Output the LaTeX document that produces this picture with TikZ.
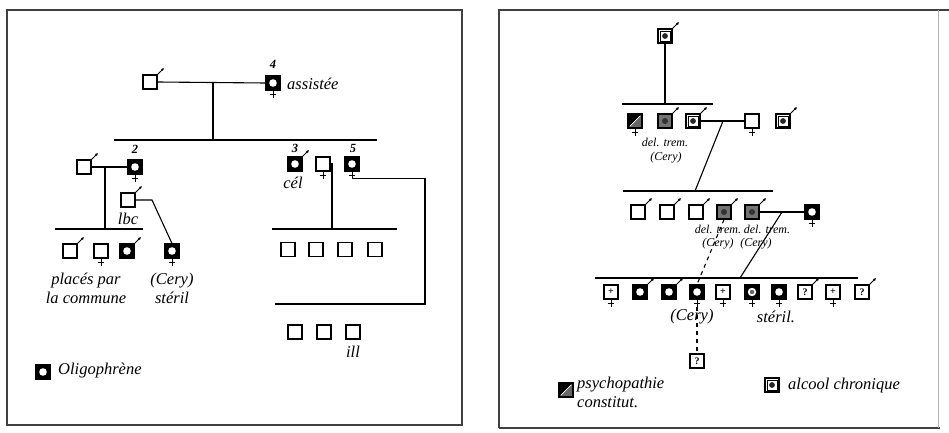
\documentclass[tikz,border=0pt]{standalone}
\usepackage{fontspec}
\setmainfont{Liberation Serif}
\usetikzlibrary{arrows.meta}
\newcommand\mk[1]{\draw[mline,-{Latex[length=3pt,width=3pt]}] (#1.north east) -- ++(6.5pt,6.5pt);}
\newcommand\fk[1]{\draw[mline] (#1.south) -- ++(0pt,-7.5pt) ([xshift=-3.2pt,yshift=-3.5pt]#1.south) -- ++(6.4pt,0pt);}
\tikzset{
 mline/.style={line width=1pt},
 conn/.style={line width=1.1pt},
 frame/.style={line width=1.1pt, draw=black!75},
 sq/.style={draw, line width=1.1pt, minimum size=14pt, inner sep=0pt, fill=white},
 oligo/.style={sq, fill=black, path picture={\fill[white] (path picture bounding box.center) circle (3.8pt);}},
 oligoal/.style={sq, fill=black, path picture={\fill[white] (path picture bounding box.center) circle (4.2pt);\fill[black!60] (path picture bounding box.center) circle (2.2pt);}},
 alco/.style={sq, path picture={\draw[line width=0.5pt] ([shift={(2.2pt,2.2pt)}]path picture bounding box.south west) rectangle ([shift={(-2.2pt,-2.2pt)}]path picture bounding box.north east); \fill[black!85] (path picture bounding box.center) circle (2.9pt);}},
 deltrem/.style={sq, fill=black!55, path picture={\fill[black!80] (path picture bounding box.center) circle (3pt);}},
 psycho/.style={sq, path picture={\fill[black] (path picture bounding box.south west) -- (path picture bounding box.north west) -- (path picture bounding box.north east) -- cycle; \fill[black!60] (path picture bounding box.south west) -- (path picture bounding box.south east) -- (path picture bounding box.north east) -- cycle; \draw[white, line width=0.7pt] ([shift={(2pt,2pt)}]path picture bounding box.south west) -- ([shift={(-2pt,-2pt)}]path picture bounding box.north east);}},
 sym/.style={sq, font=\fontsize{10}{10}\selectfont\bfseries},
 lab/.style={font=\itshape\fontsize{16.5}{18}\selectfont, inner sep=0pt},
 slab/.style={font=\itshape\fontsize{12}{13}\selectfont, inner sep=0pt},
 num/.style={font=\itshape\bfseries\fontsize{12.5}{13}\selectfont, inner sep=0pt},
}
\begin{document}
\begin{tikzpicture}[x=1pt,y=-1pt]
\useasboundingbox (0,0) rectangle (949,433);
% frames
\draw[frame] (7,10) rectangle (462,425);
\draw[frame] (499,428) -- (499,10) -- (949,10);
\draw[frame] (499,428) -- (940,428);
\draw[line width=0.6pt, draw=black!30] (938,10) -- (938,428);

% ===== LEFT PANEL =====
\node[sq] (g1m) at (150,82) {};
\node[oligo] (g1f) at (273,83) {};
\mk{g1m} \fk{g1f}
\node[num] (n4) at (273,64) {4};
\node[lab, anchor=west] (tass) at (287,84) {assistée};
\draw[conn] (g1m.east) -- (g1f.west);
\coordinate (j1) at (213,82.5);
\coordinate (j1b) at (213,140);
\draw[conn] (j1) -- (j1b);
\coordinate (s2a) at (114,140); \coordinate (s2b) at (377,140);
\draw[conn] (s2a) -- (s2b);

% gen 2 left
\node[sq] (a1) at (84,167) {};
\node[oligo] (a2) at (135,167) {};
\mk{a1} \fk{a2}
\node[num] (n2) at (135,149) {2};
\draw[conn] (a1.east) -- (a2.west);
\coordinate (j2) at (105,167); \coordinate (j2b) at (105,229);
\draw[conn] (j2) -- (j2b);
\coordinate (s3a) at (55,229); \coordinate (s3b) at (143,229);
\draw[conn] (s3a) -- (s3b);
\node[sq] (lbc) at (128,200) {};
\mk{lbc}
\node[lab] (tlbc) at (128,219) {lbc};

% gen 3 left
\node[sq] (c1) at (70,251) {};
\node[sq] (c2) at (101,251) {};
\node[oligo] (c3) at (127,251) {};
\node[oligo] (c4) at (172,251) {};
\mk{c1} \fk{c2} \mk{c3} \fk{c4}
\coordinate (k1) at (152,200);
\draw[conn] (lbc.east) -- (k1) -- (c4.north);
\node[lab] (tpl) at (86,281) {placés par};
\node[lab] (tco) at (86,298) {la commune};
\node[lab] (tce) at (172,281) {(Cery)};
\node[lab] (tst) at (172,298) {stéril};

% gen 2 right
\node[oligo] (b3) at (295,164) {};
\node[sq] (b4) at (323,164) {};
\node[oligo] (b5) at (352,164) {};
\mk{b3} \fk{b4} \fk{b5}
\node[num] (n3) at (295,148) {3};
\node[num] (n5) at (353,148) {5};
\node[lab] (tcel) at (293,183) {cél};
\coordinate (k2) at (332,164); \coordinate (k2b) at (332,229);
\draw[conn] (b4.east) -- (k2) -- (k2b);
\coordinate (s4a) at (272,229); \coordinate (s4b) at (397,229);
\draw[conn] (s4a) -- (s4b);
\node[sq] (d1) at (288,249.5) {};
\node[sq] (d2) at (316,249.5) {};
\node[sq] (d3) at (345,249.5) {};
\node[sq] (d4) at (375,249.5) {};
\coordinate (k3) at (352,178.5); \coordinate (k4) at (425,178.5);
\coordinate (k5) at (425,304); \coordinate (k6) at (275,304);
\draw[conn] (k3) -- (k4) -- (k5) -- (k6);
\node[sq] (e1) at (295,332) {};
\node[sq] (e2) at (324,332) {};
\node[sq] (e3) at (353,332) {};
\node[lab] (till) at (353,352) {ill};

% legend left
\node[oligo] (lego) at (43,372) {};
\node[lab, anchor=west] (tolig) at (58,371) {Oligophrène};

% ===== RIGHT PANEL =====
\node[alco] (r0) at (665,36) {};
\mk{r0}
\coordinate (u1) at (665,104);
\draw[conn] (r0.south) -- (u1);
\coordinate (s5a) at (622,104); \coordinate (s5b) at (713,104);
\draw[conn] (s5a) -- (s5b);

\node[psycho] (q1) at (635,121) {};
\node[deltrem] (q2) at (665,121) {};
\node[alco] (q3) at (693,121) {};
\node[sq] (q4) at (752,121) {};
\node[alco] (q5) at (783,121) {};
\fk{q1} \mk{q2} \mk{q3} \fk{q4} \mk{q5}
\draw[conn] (q3.east) -- (q4.west);
\coordinate (u2) at (723,121); \coordinate (u3) at (695,191);
\draw[conn] (u2) -- (u3);
\coordinate (s6a) at (623,191); \coordinate (s6b) at (773,191);
\draw[conn] (s6a) -- (s6b);
\node[slab] (tdt1) at (665,142) {del. trem.};
\node[slab] (tc1) at (666,158) {(Cery)};

\node[sq] (p1) at (638,212) {};
\node[sq] (p2) at (667,212) {};
\node[sq] (p3) at (696,212) {};
\node[deltrem] (p4) at (724,212) {};
\node[deltrem] (p5) at (752,212) {};
\node[oligo] (p6) at (812,212) {};
\mk{p1} \mk{p2} \mk{p3} \mk{p4} \mk{p5} \fk{p6}
\draw[conn] (p5.east) -- (p6.west);
\coordinate (u4) at (782,212); \coordinate (u5) at (740,278);
\draw[conn] (u4) -- (u5);
\coordinate (s7a) at (595,278); \coordinate (s7b) at (858,278);
\draw[conn] (s7a) -- (s7b);
\node[slab] (tdt2) at (718,229) {del. trem.};
\node[slab] (tdt3) at (767,229) {del. trem.};
\node[slab] (tc2) at (718,244) {(Cery)};
\node[slab] (tc3) at (756,244) {(Cery)};

\node[sym] (o1) at (611,292) {+};
\node[oligo] (o2) at (640,292) {};
\node[oligo] (o3) at (669,292) {};
\node[oligo] (o4) at (697,292) {};
\node[sym] (o5) at (723,292) {+};
\node[oligoal] (o6) at (752,292) {};
\node[oligo] (o7) at (779,292) {};
\node[sym] (o8) at (805,292) {?};
\node[sym] (o9) at (833,292) {+};
\node[sym] (o10) at (862,292) {?};
\fk{o1} \mk{o2} \mk{o3} \fk{o4} \fk{o5} \fk{o6} \fk{o7} \mk{o8} \fk{o9} \mk{o10}
\draw[conn, dashed, dash pattern=on 4pt off 4pt] (p4.south) -- (o4.north);
\node[sym] (qq) at (697,361) {?};
\coordinate (u6) at (697,307);
\draw[conn, dashed, dash pattern=on 4pt off 4pt] (u6) -- (qq.north);
\node[lab] (tc4) at (692,317) {(Cery)};
\node[lab] (tst2) at (776,317) {stéril.};

% legend right
\node[psycho] (legp) at (566,390) {};
\node[lab, anchor=west] (tps) at (577,385) {psychopathie};
\node[lab, anchor=west] (tcs) at (577,402) {constitut.};
\node[alco] (lega) at (772,385) {};
\node[lab, anchor=west] (tal) at (788,386) {alcool chronique};
\end{tikzpicture}
\end{document}
